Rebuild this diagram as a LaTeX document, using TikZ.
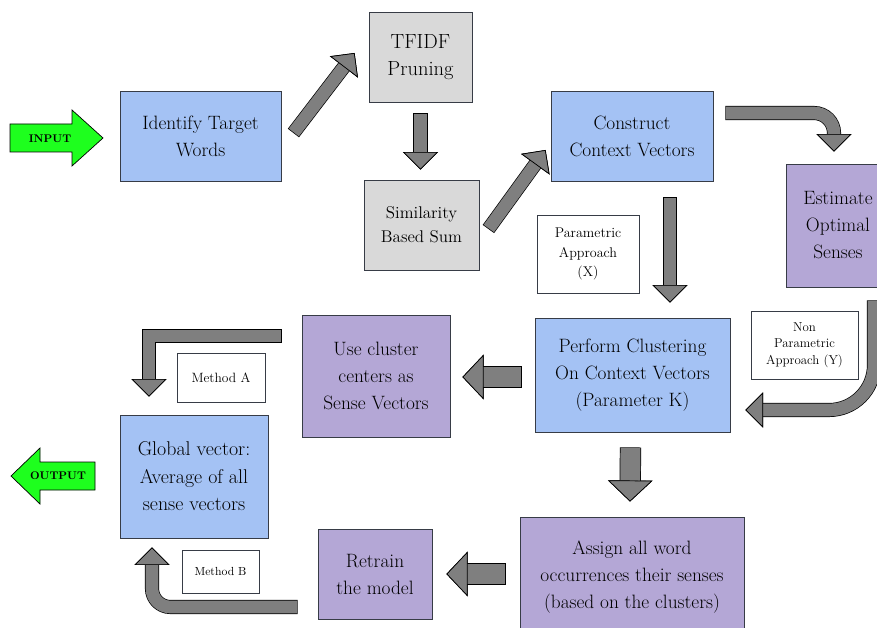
\documentclass[tikz,border=0pt]{standalone}
\usetikzlibrary{arrows.meta,calc}

\definecolor{boxblue}{HTML}{A4C2F4}
\definecolor{boxpurple}{HTML}{B4A7D6}
\definecolor{boxgray}{HTML}{D9D9D9}
\definecolor{arrowgray}{HTML}{7F7F7F}
\definecolor{edgegray}{RGB}{55,60,70}
\definecolor{flaggreen}{RGB}{30,255,30}

\tikzset{
  box/.style={draw=edgegray, line width=0.7pt, align=center, inner sep=0pt,
    font=\fontsize{16.5}{23}\selectfont},
  bluebox/.style={box, fill=boxblue},
  purplebox/.style={box, fill=boxpurple},
  graybox/.style={box, fill=boxgray},
  notebox/.style={draw=edgegray, line width=0.6pt, fill=white, align=center,
    inner sep=0pt, font=\fontsize{11.5}{16}\selectfont},
  flag/.style={font=\fontsize{9.5}{11}\selectfont\bfseries, inner sep=0pt},
  flow/.style={draw=arrowgray, line width=10.8pt, shorten <=0.6pt,
    -{Triangle[width=30pt, length=15pt, color=black, fill=arrowgray, line width=0.6pt]},
    preaction={draw=black, line width=12pt, shorten <=0pt,
      -{Triangle[width=30pt, length=15pt, color=black, fill=black, line width=0.6pt]}}},
  bigflow/.style={draw=arrowgray, line width=17pt, shorten <=0.6pt,
    -{Triangle[width=38pt, length=18pt, color=black, fill=arrowgray, line width=0.6pt]},
    preaction={draw=black, line width=18.2pt, shorten <=0pt,
      -{Triangle[width=38pt, length=18pt, color=black, fill=black, line width=0.6pt]}}}
}

\begin{document}
\begin{tikzpicture}[x=0.03cm, y=-0.03cm]
  \clip (0,0) rectangle (877,628);

  % in and out
  \draw[fill=flaggreen, line width=0.6pt] (10,124) -- (72,124) -- (72,110) -- (103,138)
    -- (72,166) -- (72,152) -- (10,152) -- cycle;
  \node[flag] (input) at (50,139) {INPUT};
  \draw[fill=flaggreen, line width=0.6pt] (11,476) -- (40,448) -- (40,462) -- (95,462)
    -- (95,490) -- (40,490) -- (40,504) -- cycle;
  \node[flag] (output) at (58,476) {OUTPUT};

  % boxes
  \node[bluebox, minimum width=4.83cm, minimum height=2.7cm] (ident) at (200.5,136) {Identify Target\\Words};
  \node[graybox, minimum width=3.09cm, minimum height=2.7cm, font=\fontsize{17.5}{23}\selectfont] (tfidf) at (420.5,57) {TFIDF\\Pruning};
  \node[graybox, minimum width=3.45cm, minimum height=2.7cm, font=\fontsize{14.5}{20.5}\selectfont] (simsum) at (421.5,225) {Similarity\\Based Sum};
  \node[bluebox, minimum width=4.86cm, minimum height=2.7cm] (construct) at (632,136) {Construct\\Context Vectors};
  \node[purplebox, minimum width=3.12cm, minimum height=3.69cm] (estimate) at (838,225.5) {Estimate\\Optimal\\Senses};
  \node[bluebox, minimum width=5.85cm, minimum height=3.42cm] (perform) at (632.5,375) {Perform Clustering\\On Context Vectors\\(Parameter K)};
  \node[purplebox, minimum width=4.44cm, minimum height=3.66cm] (usecluster) at (376,376) {Use cluster\\centers as\\Sense Vectors};
  \node[bluebox, minimum width=4.44cm, minimum height=3.69cm, font=\fontsize{17}{23.5}\selectfont] (global) at (194,476.5) {Global vector:\\Average of all\\sense vectors};
  \node[purplebox, minimum width=3.42cm, minimum height=2.7cm] (retrain) at (375,574) {Retrain\\the model};
  \node[purplebox, minimum width=6.72cm, minimum height=3.6cm] (assign) at (632,577) {Assign all word\\occurrences their senses\\(based on the clusters)};

  % labels
  \node[notebox, minimum width=3.06cm, minimum height=2.34cm, font=\fontsize{12}{16.3}\selectfont] (paramx) at (588,254) {Parametric\\Approach\\(X)};
  \node[notebox, minimum width=3.21cm, minimum height=2.04cm, font=\fontsize{11}{14}\selectfont] (nonparam) at (804.5,345) {Non\\Parametric\\Approach (Y)};
  \node[notebox, minimum width=2.64cm, minimum height=1.47cm] (methoda) at (221,377.5) {Method A};
  \node[notebox, minimum width=2.31cm, minimum height=1.29cm, font=\fontsize{10}{12}\selectfont] (methodb) at (220.5,571.5) {Method B};

  % arrows
  \draw[flow] ($(ident.east)+(12,-3)$) -- ($(tfidf.west)+(-14,-4)$);
  \draw[flow] ($(tfidf.south)+(0,11)$) -- ($(simsum.north)+(-1,-10)$);
  \draw[flow] ($(simsum.east)+(9,4)$) -- ($(construct.west)+(-5,14)$);
  \draw[flow] ($(construct.south)+(38,16)$) -- ($(perform.north)+(37.5,-15)$);
  \draw[flow, rounded corners=0.6cm] ($(construct.east)+(12,-23)$) -| ($(estimate.north)+(-4,-12)$);
  \draw[flow, rounded corners=1.35cm] ($(estimate.south)+(36,13)$) |- ($(perform.east)+(15,35)$);
  \draw[bigflow] ($(perform.west)+(-13,2)$) -- ($(usecluster.east)+(12,1)$);
  \draw[bigflow] ($(perform.south)+(-2,15)$) -- ($(assign.north)+(-2,-15)$);
  \draw[bigflow] ($(assign.west)+(-14,-3)$) -- ($(retrain.east)+(14,0)$);
  \draw[flow] ($(usecluster.west)+(-20,-40)$) -| ($(global.north)+(-45,-18)$);
  \draw[flow, rounded corners=0.55cm] ($(retrain.west)+(-20,33)$) -| ($(global.south)+(-42,9)$);
\end{tikzpicture}
\end{document}
